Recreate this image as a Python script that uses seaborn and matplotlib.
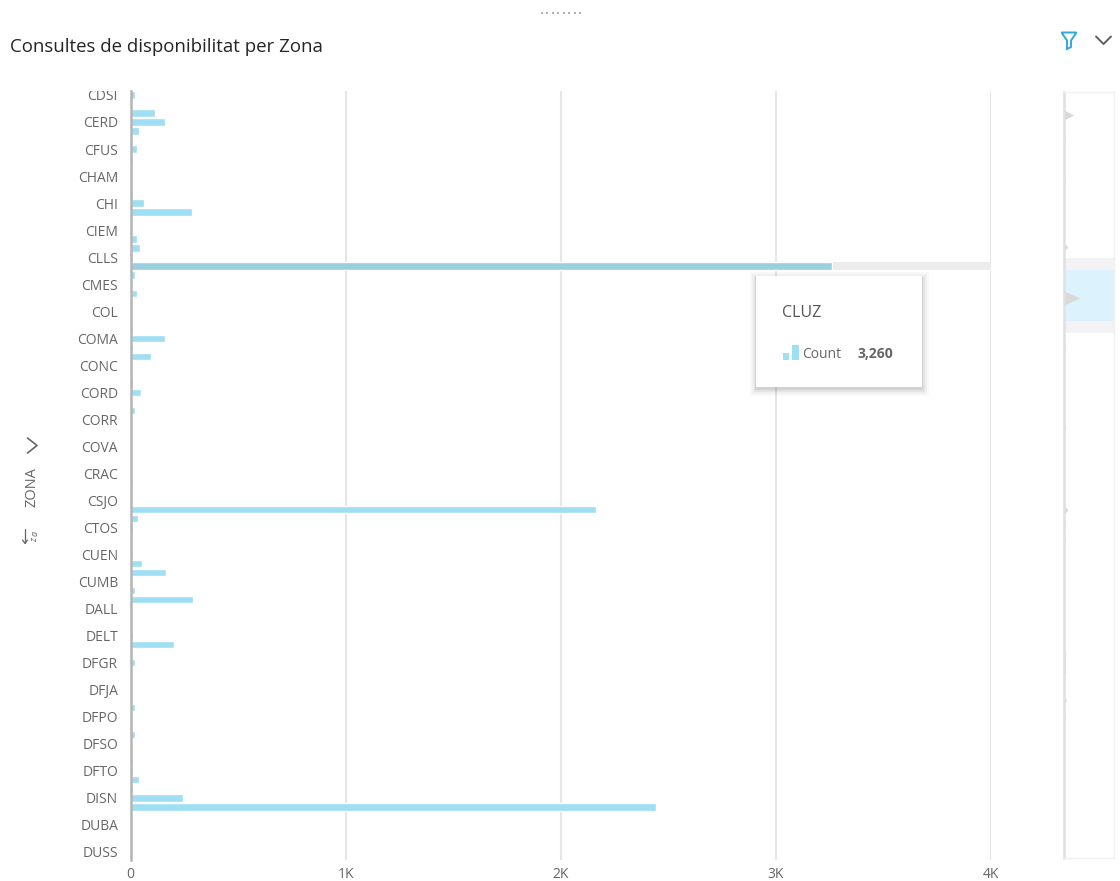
import matplotlib
matplotlib.use("Agg")
import matplotlib.pyplot as plt
import pandas as pd
import seaborn as sns
from matplotlib.patches import Rectangle, Polygon
from matplotlib.transforms import Bbox

# Count per zone, top to bottom; only every third row carries a visible label.
zone_counts = [
    20, 5, 115, 160, 40, 5, 28, 12, 5, 4, 4, 10, 65, 285, 4, 4, 28, 45, 12, 3260,
    20, 5, 28, 4, 4, 3, 10, 160, 10, 95, 4, 4, 10, 50, 4, 20, 4, 3, 3, 3,
    3, 3, 3, 10, 4, 3, 2165, 35, 12, 4, 4, 10, 55, 165, 4, 20, 290, 4, 3, 3,
    10, 200, 4, 20, 4, 3, 3, 3, 20, 4, 3, 20, 4, 4, 12, 12, 40, 12, 245, 2445,
    4, 3, 3, 3, 3,
]
zone_labels = [
    "CDSI", "CERD", "CFUS", "CHAM", "CHI", "CIEM", "CLLS", "CMES", "COL", "COMA",
    "CONC", "CORD", "CORR", "COVA", "CRAC", "CSJO", "CTOS", "CUEN", "CUMB", "DALL",
    "DELT", "DFGR", "DFJA", "DFPO", "DFSO", "DFTO", "DISN", "DUBA", "DUSS",
]
selected_name = "CLUZ"
selected_row = 19
x_ticks = [0, 1000, 2000, 3000, 4000]
x_tick_labels = ["0", "1K", "2K", "3K", "4K"]

# Overview strip: position along the strip and the count shown there.
strip_pos = [92, 110, 115, 120, 134, 137, 140, 156, 159, 162, 179, 182, 185, 189, 192, 195,
             219, 222, 225, 230, 233, 236, 243, 247, 251, 255, 258, 261, 291, 298, 305,
             324, 327, 330, 343, 346, 349, 379, 382, 385, 424, 428, 432, 505, 510, 515,
             522, 525, 528, 536, 539, 542, 594, 597, 600, 649, 653, 660, 668, 673, 675,
             678, 681, 696, 700, 704, 715, 718, 721, 811, 814, 817, 833, 836, 839, 858]
strip_counts = [0, 0, 2000, 0, 0, 280, 0, 0, 200, 0, 0, 280, 0, 0, 200, 0,
                0, 200, 0, 0, 200, 0, 0, 800, 0, 0, 200, 0, 0, 3260, 0,
                0, 200, 0, 0, 280, 0, 0, 200, 0, 0, 300, 0, 0, 800, 0,
                0, 280, 0, 0, 280, 0, 0, 200, 0, 0, 350, 300, 300, 320, 0,
                200, 0, 0, 500, 0, 0, 280, 0, 0, 200, 0, 0, 200, 0, 0]

BAR = "#9FDFF3"
BAR_SELECTED = "#9ACFDF"
TEXT = "#666666"
GRID = "#E6E6E6"

sns.set_theme(style="white")
plt.rcParams["font.family"] = ["Open Sans", "DejaVu Sans"]

W, H = 1120, 881
fig = plt.figure(figsize=(W / 100, H / 100), dpi=100, facecolor="white")


def px_axes(left, top, right, bottom, **kw):
    return fig.add_axes([left / W, 1 - bottom / H, (right - left) / W, (bottom - top) / H], **kw)


# Main bar panel
ax = px_axes(130.5, 91, 991, 860)
frame = pd.DataFrame({
    "row": range(len(zone_counts)),
    "count": zone_counts,
    "state": ["sel" if i == selected_row else "other" for i in range(len(zone_counts))],
})
ax.axhspan(selected_row - 0.42, selected_row + 0.42, color="#ECECEC", lw=0, zorder=1)
sns.barplot(data=frame, x="count", y="row", hue="state", orient="y", native_scale=True,
            dodge=False, width=0.82, palette={"other": BAR, "sel": BAR_SELECTED},
            legend=False, saturation=1, ax=ax, zorder=3)
ax.set_xlim(0, 4000)
ax.set_ylim(84.9, -0.44)
ax.set_xlabel("")
ax.set_ylabel("")
ax.set_xticks(x_ticks, x_tick_labels)
ax.set_yticks(range(0, len(zone_counts), 3), zone_labels)
ax.tick_params(axis="both", length=0, labelsize=10, labelcolor=TEXT)
ax.tick_params(axis="y", pad=9)
ax.tick_params(axis="x", pad=5)
ax.grid(axis="x", color=GRID, lw=1.5, zorder=0)
ax.set_axisbelow(True)
for side in ("top", "right", "bottom"):
    ax.spines[side].set_visible(False)
ax.spines["left"].set_color("#B4B4B4")
ax.spines["left"].set_linewidth(1.8)
ax.spines["left"].set_zorder(5)
ax.patch.set_alpha(0)

# Row labels are cut off at the top edge of the scrolling panel.
label_clip = Bbox([[0, 0], [W, H - 91]])
for tick_label in ax.get_yticklabels():
    tick_label.set_clip_box(label_clip)
    tick_label.set_clip_on(True)

# Overview strip at the right
strip = px_axes(1064, 92, 1114, 858)
strip.axhspan(258, 333, color="#F3F3F3", lw=0, zorder=0)
strip.axhspan(270, 321, color="#DCF2FD", lw=0, zorder=1)
strip.fill_betweenx(strip_pos, 0, strip_counts, color="#DADADA", lw=0, zorder=2)
strip.set_xlim(0, 10200)
strip.set_ylim(858, 92)
strip.set_xticks([])
strip.set_yticks([])
for side, spine in strip.spines.items():
    spine.set_color("#F0F0F0")
    spine.set_linewidth(1)
strip.spines["left"].set_color("#E0E0E0")
strip.spines["left"].set_linewidth(1.8)

# Overlay in pixel units for the title, icons and tooltip
ov = fig.add_axes([0, 0, 1, 1], zorder=10)
ov.set_xlim(0, W)
ov.set_ylim(H, 0)
ov.axis("off")
ov.patch.set_alpha(0)

ov.text(10, 46.5, "Consultes de disponibilitat per Zona", fontsize=13.4, color="#252423",
        va="center", ha="left")

# Drag handle
ov.scatter([541.5 + 5.5 * i for i in range(8)], [13] * 8, s=1.6, marker="s", color="#B0B0B0", lw=0)

# Filter funnel and expand chevron
ov.add_patch(Polygon([(1061.5, 32.5), (1076.5, 32.5), (1071, 40.5), (1071, 47), (1067, 49), (1067, 40.5)],
                     closed=True, fill=False, ec="#2FA8E0", lw=1.4))
ov.plot([1096, 1103.5, 1111], [36.5, 44, 36.5], color="#605E5C", lw=1.4)

# Axis field name, chevron and sort indicator
ov.text(32, 487, "ZONA", rotation=90, fontsize=10.5, color=TEXT, ha="center", va="center")
ov.plot([27.5, 37, 27.5], [438, 445.5, 453], color="#666666", lw=1.2)
ov.plot([25, 25], [529, 543], color="#666666", lw=0.9)
ov.plot([22.5, 25, 27.5], [540, 543.5, 540], color="#666666", lw=0.9)
ov.text(35, 533, "a", fontsize=6.5, style="italic", color=TEXT, rotation=90, ha="center", va="center")
ov.text(35, 540, "z", fontsize=6.5, style="italic", color=TEXT, rotation=90, ha="center", va="center")

# Tooltip shadow, card and content
for grow, alpha in [(7, 0.025), (5, 0.035), (3, 0.05), (1.5, 0.07)]:
    ov.add_patch(Rectangle((756 - grow + 0.5, 276 - grow + 2.5), 166 + 2 * grow - 1, 111 + 2 * grow - 1,
                           fc="black", ec="none", alpha=alpha, zorder=2))
ov.add_patch(Rectangle((756, 276), 166, 111, fc="white", ec="none", zorder=3))
ov.text(782, 313, selected_name, fontsize=11.5, color="#555555", va="center", zorder=4)
ov.add_patch(Rectangle((782.5, 352.5), 6, 7, fc=BAR, ec="none", zorder=4))
ov.add_patch(Rectangle((791.5, 344.5), 7, 15, fc=BAR, ec="none", zorder=4))
ov.text(802, 354.5, "Count", fontsize=10, color=TEXT, va="center", zorder=4)
ov.text(857, 354.5, f"{zone_counts[selected_row]:,}", fontsize=10, fontweight="bold",
        color=TEXT, va="center", zorder=4)

fig.savefig("out.png", dpi=100, facecolor="white")
